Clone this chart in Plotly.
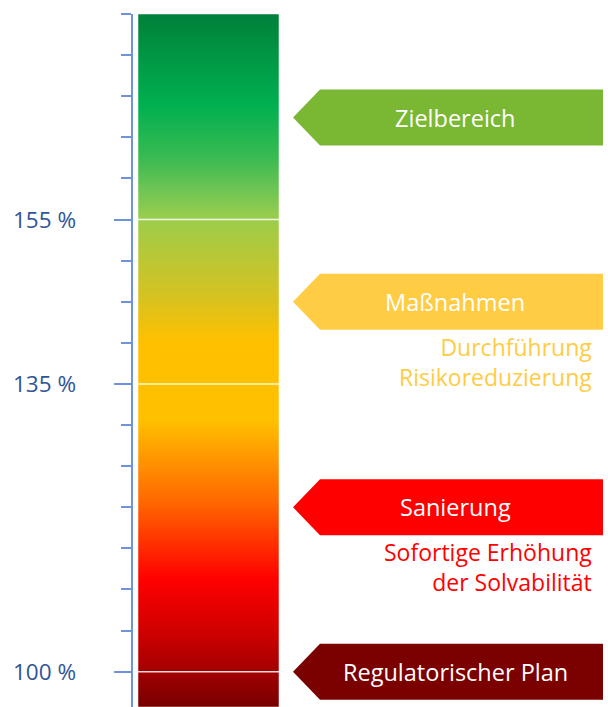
import numpy as np
import plotly.graph_objects as go

# ---- data ----
major_ticks = [100, 135, 155]
major_labels = ["100 %", "135 %", "155 %"]
minor_step = 5
axis_top = 180
axis_bottom = 95.7

# gradient stops (axis value -> colour)
grad_values = [95.7, 103.9, 111.2, 120.9, 126.4, 130.6, 140.3, 145.2, 151.3, 155, 158.5, 162.2, 168.9, 180]
grad_colors = ["#780000", "#C80000", "#FF0000", "#FF6A00", "#FF9A00", "#FFC000", "#FFC000",
               "#D8C21F", "#B4C83A", "#9CCD4C", "#70C555", "#3DBB52", "#00B050", "#00803A"]

levels = [167.4, 145, 120, 100]
level_labels = ["Zielbereich", "Maßnahmen", "Sanierung", "Regulatorischer Plan"]
level_colors = ["#7AB833", "#FFCC44", "#FF0000", "#7B0000"]
level_subtexts = [[], ["Durchführung", "Risikoreduzierung"], ["Sofortige Erhöhung", "der Solvabilität"], []]
subtext_colors = [None, "#FFCC44", "#FF0000", None]

# ---- layout constants ----
W, H = 608, 707
TOP = 14
px_per_unit = (H - TOP) / (axis_top - axis_bottom)
bar_x0, bar_x1 = 138, 279
axis_x = 132
arrow_tip, arrow_sh, arrow_right = 293, 320, 603
arrow_half = 28 / px_per_unit
axis_color = "#6F93DA"
FONT = "Open Sans"

fig = go.Figure()

# gradient bar
edges = np.arange(axis_bottom, axis_top + 0.001, 0.2)
edges[-1] = axis_top
centers = (edges[:-1] + edges[1:]) / 2
lo, hi = grad_values[0], grad_values[-1]
cscale = [[(v - lo) / (hi - lo), c] for v, c in zip(grad_values, grad_colors)]
fig.add_trace(go.Heatmap(
    x=[bar_x0, bar_x1], y=edges, z=centers.reshape(-1, 1),
    colorscale=cscale, zmin=lo, zmax=hi, showscale=False, hoverinfo="skip"))

shapes = []
# white lines at major ticks
for v in major_ticks:
    shapes.append(dict(type="line", xref="x", yref="y", x0=bar_x0, x1=bar_x1, y0=v, y1=v,
                       line=dict(color="rgba(255,255,255,0.85)", width=1.5)))
# bar outline
shapes.append(dict(type="rect", xref="x", yref="y", x0=bar_x0, x1=bar_x1, y0=axis_bottom, y1=axis_top,
                   line=dict(color="rgba(255,255,255,0.5)", width=1)))

annotations = []
for lv, lab, col, subs, scol in zip(levels, level_labels, level_colors, level_subtexts, subtext_colors):
    t, b = lv + arrow_half, lv - arrow_half
    path = f"M {arrow_tip},{lv} L {arrow_sh},{t} L {arrow_right},{t} L {arrow_right},{b} L {arrow_sh},{b} Z"
    shapes.append(dict(type="path", xref="x", yref="y", path=path, fillcolor=col, line=dict(width=0)))
    annotations.append(dict(x=455, y=lv, xref="x", yref="y", text=lab, showarrow=False,
                            xanchor="center", yanchor="middle",
                            font=dict(family=FONT, size=23.5, color="white")))
    if subs:
        annotations.append(dict(x=593, y=lv, xref="x", yref="y", text="<br>".join(subs), showarrow=False,
                                xanchor="right", yanchor="top", align="right", yshift=-28,
                                borderpad=0,
                                font=dict(family=FONT, size=23, color=scol)))

# tick labels
for v, t in zip(major_ticks, major_labels):
    annotations.append(dict(x=78, y=v, xref="x", yref="y", text=t, showarrow=False,
                            xanchor="right", yanchor="middle",
                            font=dict(family=FONT, size=22.5, color="#2F5597")))

fig.update_layout(
    width=W, height=H, margin=dict(l=0, r=0, t=TOP, b=0),
    paper_bgcolor="white", plot_bgcolor="white", showlegend=False,
    shapes=shapes, annotations=annotations,
    xaxis=dict(range=[0, W], visible=False, fixedrange=True),
    yaxis=dict(range=[axis_bottom, axis_top], anchor="free", position=axis_x / W,
               showline=True, linecolor=axis_color, linewidth=2, showgrid=False, zeroline=False,
               ticks="outside", tickvals=major_ticks, ticklen=17, tickwidth=2, tickcolor=axis_color,
               showticklabels=False, fixedrange=True,
               minor=dict(ticks="outside", dtick=minor_step, tick0=0, ticklen=10, tickwidth=2,
                          tickcolor=axis_color, showgrid=False)),
)

fig.write_html("out.html", config={"displayModeBar": False},
               post_script="document.body.style.margin='0';document.body.style.overflow='hidden';")
